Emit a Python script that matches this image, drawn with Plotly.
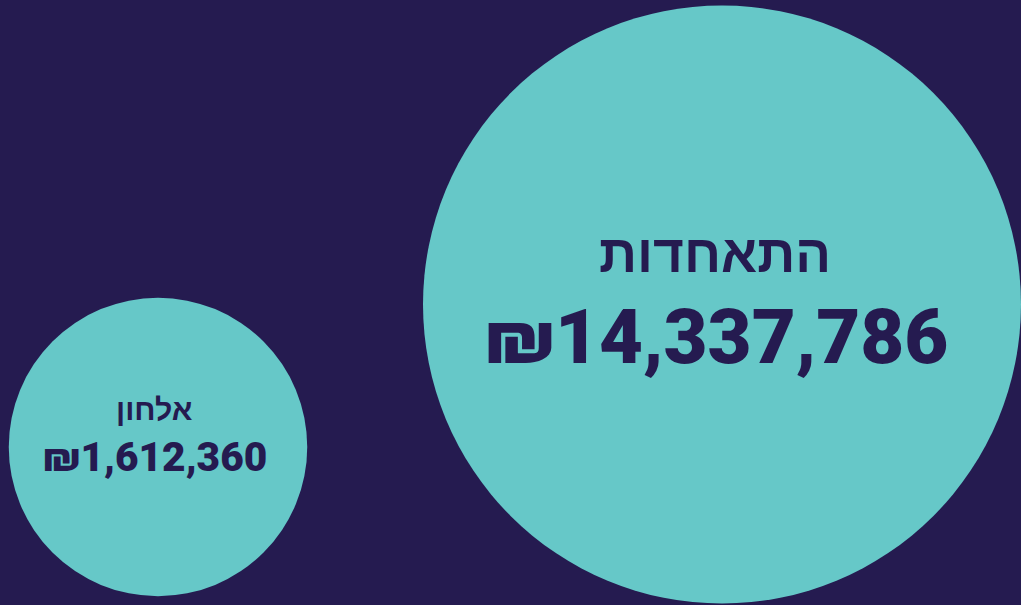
import plotly.graph_objects as go

# ── Data ─────────────────────────────────────────────────────────────────────
names = ["אלחון", "התאחדות"]
amounts = [1612360, 14337786]

# ── Style / layout constants ─────────────────────────────────────────────────
W, H = 1021, 605
BG = "#251b50"
TEAL = "#66c8c8"
INK = "#251b50"
FONT = "Roboto, 'Liberation Sans', 'DejaVu Sans', sans-serif"

# circle radius: power scale on the amount (largest circle ~299px)
R_MAX = 299
R_EXP = 0.318
centers = [(158, 447), (722, 304.5)]


def radius(v):
    return R_MAX * (v / max(amounts)) ** R_EXP


def money(v):
    return f"₪{v:,}"


radii = [radius(v) for v in amounts]

fig = go.Figure()
fig.add_trace(go.Scatter(
    x=[c[0] for c in centers],
    y=[c[1] for c in centers],
    mode="markers",
    marker=dict(size=[2 * r for r in radii], color=TEAL, line=dict(width=0),
                opacity=1),
    hoverinfo="skip",
    cliponaxis=True,
))

for name, amt, (cx, cy), r in zip(names, amounts, centers, radii):
    k = r / R_MAX
    big = k > 0.9
    fig.add_annotation(x=cx, y=cy, text=name, showarrow=False,
                       xshift=-0.025 * r, yshift=51 if big else 38,
                       font=dict(family=FONT, size=53 * k ** 0.8, color=INK,
                                 weight=900))
    fig.add_annotation(x=cx, y=cy, text=money(amt), showarrow=False,
                       xshift=-0.02 * r, yshift=-32 if big else -10,
                       font=dict(family=FONT, size=76 * k ** 0.9, color=INK,
                                 weight=900))

fig.update_layout(
    width=W, height=H,
    margin=dict(l=0, r=0, t=0, b=0),
    paper_bgcolor=BG, plot_bgcolor=BG,
    showlegend=False,
    hovermode=False,
    xaxis=dict(range=[0, W], visible=False, fixedrange=True),
    yaxis=dict(range=[H, 0], visible=False, fixedrange=True),
)

fig.write_html("out.html", config={"displayModeBar": False},
               post_script="document.body.style.margin='0';")
